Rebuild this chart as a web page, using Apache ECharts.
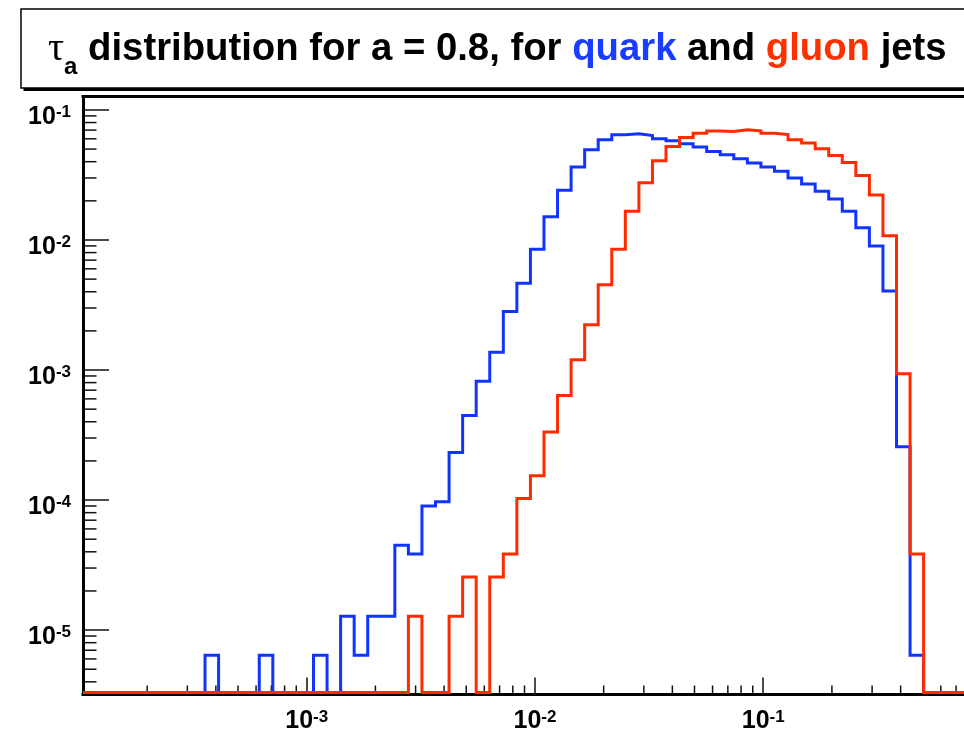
<!DOCTYPE html>
<html>
<head>
<meta charset="utf-8">
<script src="https://cdn.jsdelivr.net/npm/echarts@6/dist/echarts.min.js"></script>
<style>
  html, body { margin: 0; padding: 0; background: #fff; }
  #chart { width: 964px; height: 734px; }
</style>
</head>
<body>
<div id="chart"></div>
<script>
// Logarithmic binning of tau_a: first bin edge and width, both in log10 units
const LOG_X_MIN = -3.98;
const BIN_W = 0.0594;

// Normalised bin contents (fraction of jets per bin), 67 bins each
const quarkJets = [
  0, 0, 0, 0, 0, 0, 0, 0, 0, 6.4e-6,
  0, 0, 0, 6.4e-6, 0, 0, 0, 6.4e-6, 0, 1.28e-5,
  6.4e-6, 1.28e-5, 1.28e-5, 4.5e-5, 3.85e-5, 9.0e-5, 9.7e-5, 2.32e-4, 4.46e-4, 8.2e-4,
  1.37e-3, 2.82e-3, 4.65e-3, 8.47e-3, 1.51e-2, 2.41e-2, 3.64e-2, 4.94e-2, 5.89e-2, 6.44e-2,
  6.55e-2, 6.36e-2, 6.0e-2, 5.79e-2, 5.5e-2, 5.18e-2, 4.8e-2, 4.52e-2, 4.21e-2, 3.91e-2,
  3.64e-2, 3.37e-2, 3.0e-2, 2.7e-2, 2.37e-2, 2.07e-2, 1.66e-2, 1.24e-2, 8.98e-3, 4.06e-3,
  2.57e-4, 6.4e-6, 0, 0, 0, 0, 0
];
const gluonJets = [
  0, 0, 0, 0, 0, 0, 0, 0, 0, 0,
  0, 0, 0, 0, 0, 0, 0, 0, 0, 0,
  0, 0, 0, 0, 1.28e-5, 0, 0, 1.28e-5, 2.56e-5, 0,
  2.56e-5, 3.85e-5, 1.03e-4, 1.54e-4, 3.34e-4, 6.38e-4, 1.2e-3, 2.23e-3, 4.52e-3, 8.47e-3,
  1.66e-2, 2.75e-2, 4.07e-2, 5.24e-2, 6.14e-2, 6.62e-2, 6.9e-2, 6.82e-2, 7.03e-2, 6.9e-2,
  6.62e-2, 6.47e-2, 5.89e-2, 5.56e-2, 5.02e-2, 4.47e-2, 3.95e-2, 3.13e-2, 2.22e-2, 1.08e-2,
  9.35e-4, 3.85e-5, 0, 0, 0, 0, 0
];

// Decades that carry a 10^n label
const X_DECADES = [-3, -2, -1];
const Y_DECADES = [-5, -4, -3, -2, -1];

// Axis ranges (the frame runs on past the right edge of the page)
const X_MIN = Math.pow(10, LOG_X_MIN);
const X_MAX = Math.pow(10, -0.1203);
const Y_MIN = Math.pow(10, -5.48);
const Y_MAX = Math.pow(10, -0.9104);

const BLUE = '#1034ff';
const RED = '#ff2a00';
const FONT = '"Liberation Sans", Arial, Helvetica, sans-serif';

function binEdge(k) { return Math.pow(10, LOG_X_MIN + k * BIN_W); }

// Outline of a histogram; empty bins sit on the lower frame edge
function histOutline(counts) {
  const pts = [];
  counts.forEach(function (c, k) {
    const y = c > 0 ? c : Y_MIN;
    pts.push([binEdge(k), y], [binEdge(k + 1), y]);
  });
  return pts;
}

// Minor tick positions 2..9 x 10^n inside a range
function minorTicks(lo, hi, nLo, nHi) {
  const out = [];
  for (let n = nLo; n <= nHi; n++) {
    for (let m = 2; m <= 9; m++) {
      const v = m * Math.pow(10, n);
      if (v > lo && v < hi) out.push(v);
    }
  }
  return out;
}

function decadeLabel(v) {
  const l = Math.log10(v);
  const e = Math.round(l);
  if (Math.abs(l - e) > 1e-6) return '';
  return '{b|10}{e|' + e + '}';
}

const labelRich = {
  b: { fontFamily: FONT, fontWeight: 'bold', fontSize: 25, lineHeight: 26, color: '#000' },
  e: { fontFamily: FONT, fontWeight: 'bold', fontSize: 17, lineHeight: 17, color: '#000', verticalAlign: 'top' }
};

const chart = echarts.init(document.getElementById('chart'), null, { renderer: 'canvas' });

const xMinor = minorTicks(X_MIN, X_MAX, -4, -1).map(function (v) { return [v, Y_MIN]; });
const yMinor = minorTicks(Y_MIN, Y_MAX, -6, -1).map(function (v) { return [X_MIN, v]; });

const xMajor = X_DECADES.map(function (e) { return Math.pow(10, e); });
const yMajor = Y_DECADES.map(function (e) { return Math.pow(10, e); });

chart.setOption({
  animation: false,
  backgroundColor: '#fff',
  grid: { left: 83, right: 0, top: 98.3, bottom: 39 },
  graphic: [
    { type: 'rect', shape: { x: 23.5, y: 12, width: 1000, height: 79 }, style: { fill: '#000' }, z: 10 },
    { type: 'rect', shape: { x: 21, y: 9, width: 1000, height: 79 }, style: { fill: '#fff', stroke: '#000', lineWidth: 1.5 }, z: 11 },
    {
      type: 'text', x: 48, y: 49, z: 12,
      style: {
        text: '{tau|τ}{sub|a}{t| distribution for a = 0.8, for }{q|quark}{t| and }{g|gluon}{t| jets}',
        verticalAlign: 'middle', align: 'left',
        rich: {
          tau: { fontFamily: '"Liberation Serif", "DejaVu Serif", serif', fontSize: 40, lineHeight: 60, fill: '#000' },
          sub: { fontFamily: FONT, fontWeight: 'bold', fontSize: 24, lineHeight: 30, verticalAlign: 'bottom', fill: '#000' },
          t: { fontFamily: FONT, fontWeight: 'bold', fontSize: 38.3, lineHeight: 60, fill: '#000' },
          q: { fontFamily: FONT, fontWeight: 'bold', fontSize: 38.3, lineHeight: 60, fill: '#1a3cff' },
          g: { fontFamily: FONT, fontWeight: 'bold', fontSize: 38.3, lineHeight: 60, fill: '#ff3000' }
        }
      }
    }
  ],
  xAxis: [
    {
      type: 'log', logBase: 10, min: X_MIN, max: X_MAX, position: 'bottom', offset: 2, z: 1,
      axisLine: { show: true, lineStyle: { color: '#000', width: 3, cap: 'square' } },
      axisTick: { show: true, inside: true, length: 17, lineStyle: { color: '#111', width: 1.5 }, customValues: xMajor },
      axisLabel: { show: true, margin: 14, fontSize: 25, fontWeight: 'bold', fontFamily: FONT,
                   formatter: decadeLabel, rich: labelRich, customValues: xMajor },
      splitLine: { show: false }, minorTick: { show: false }
    },
    {
      type: 'log', logBase: 10, min: X_MIN, max: X_MAX, position: 'top', offset: 2, z: 1,
      axisLine: { show: true, lineStyle: { color: '#000', width: 3, cap: 'square' } },
      axisTick: { show: false }, axisLabel: { show: false }, splitLine: { show: false }
    }
  ],
  yAxis: {
    type: 'log', logBase: 10, min: Y_MIN, max: Y_MAX, z: 1,
    axisLine: { show: true, lineStyle: { color: '#000', width: 3, cap: 'square' } },
    axisTick: { show: true, inside: true, length: 26, lineStyle: { color: '#111', width: 1.5 }, customValues: yMajor },
    axisLabel: { show: true, margin: 12, fontSize: 25, fontWeight: 'bold', fontFamily: FONT,
                 formatter: decadeLabel, rich: labelRich, padding: [14, 0, 0, 0], customValues: yMajor },
    splitLine: { show: false }, minorTick: { show: false }
  },
  series: [
    {
      name: 'x minor ticks', type: 'custom', silent: true, z: 1, data: xMinor,
      renderItem: function (params, api) {
        const p = api.coord([api.value(0), api.value(1)]);
        return { type: 'line', shape: { x1: p[0], y1: p[1] + 1, x2: p[0], y2: p[1] - 7 },
                 style: { stroke: '#111', lineWidth: 1.5 } };
      }
    },
    {
      name: 'y minor ticks', type: 'custom', silent: true, z: 1, data: yMinor,
      renderItem: function (params, api) {
        const p = api.coord([api.value(0), api.value(1)]);
        return { type: 'line', shape: { x1: p[0], y1: p[1], x2: p[0] + 13.5, y2: p[1] },
                 style: { stroke: '#111', lineWidth: 1.5 } };
      }
    },
    {
      name: 'quark', type: 'line', data: histOutline(quarkJets), showSymbol: false, clip: false, z: 3,
      lineStyle: { color: BLUE, width: 3, join: 'miter' }
    },
    {
      name: 'gluon', type: 'line', data: histOutline(gluonJets), showSymbol: false, clip: false, z: 4,
      lineStyle: { color: RED, width: 3, join: 'miter' }
    }
  ]
});
</script>
</body>
</html>
